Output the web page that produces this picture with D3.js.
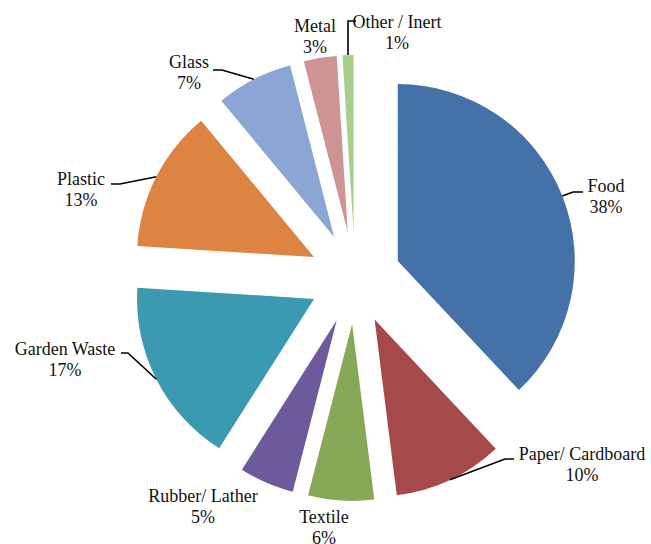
<!DOCTYPE html>
<html>
<head>
<meta charset="utf-8">
<script src="https://cdn.jsdelivr.net/npm/d3@7/dist/d3.min.js"></script>
<style>
  html, body { margin: 0; padding: 0; background: #fff; }
  svg { display: block; }
  text { font-family: "Liberation Serif", "Times New Roman", serif; font-size: 18px; fill: #111; }
</style>
</head>
<body>
<svg id="chart" width="651" height="544"></svg>
<script>
// ---- data ----
const categories = ["Food", "Paper/ Cardboard", "Textile", "Rubber/ Lather", "Garden Waste", "Plastic", "Glass", "Metal", "Other / Inert"];
const values = [38, 10, 6, 5, 17, 13, 7, 3, 1];
const percentLabels = ["38%", "10%", "6%", "5%", "17%", "13%", "7%", "3%", "1%"];
const colors = ["#4472A8", "#A5494A", "#86A857", "#6C5A9C", "#3B99B2", "#DD8442", "#8BA6D5", "#D09394", "#A8CF8E"];

// ---- layout (label positions, leader elbows) ----
const layout = {
  cx: 355, cy: 278, r: 177, explode: 46,
  labels: [
    { x: 606, y: 192, elbow: [573, 192], end: [583, 192] },
    { x: 582, y: 460, elbow: [505, 459], end: [514, 459] },
    { x: 324, y: 523 },
    { x: 203, y: 502 },
    { x: 65,  y: 355, elbow: [128, 353], end: [121, 353] },
    { x: 81,  y: 185, elbow: [120, 184], end: [111, 184] },
    { x: 189, y: 68,  elbow: [222, 70],  end: [213, 70] },
    { x: 315, y: 32 },
    { x: 397, y: 28,  elbow: [348, 21],  end: [356, 21] }
  ]
};

const svg = d3.select("#chart");
const pie = d3.pie().sort(null).value(d => d).startAngle(0).endAngle(2 * Math.PI);
const arcs = pie(values);
const arc = d3.arc().innerRadius(0).outerRadius(layout.r);

const g = svg.append("g").attr("transform", `translate(${layout.cx},${layout.cy})`);

function offset(d) {
  const a = (d.startAngle + d.endAngle) / 2;
  return [Math.sin(a) * layout.explode, -Math.cos(a) * layout.explode];
}

g.selectAll("path.slice")
  .data(arcs)
  .join("path")
  .attr("class", "slice")
  .attr("d", arc)
  .attr("fill", (d, i) => colors[i])
  .attr("transform", d => { const o = offset(d); return `translate(${o[0]},${o[1]})`; });

// leader lines
arcs.forEach((d, i) => {
  const L = layout.labels[i];
  if (!L.elbow) return;
  const a = (d.startAngle + d.endAngle) / 2;
  const o = offset(d);
  const sx = layout.cx + o[0] + Math.sin(a) * layout.r;
  const sy = layout.cy + o[1] - Math.cos(a) * layout.r;
  svg.append("polyline")
    .attr("points", `${sx},${sy} ${L.elbow[0]},${L.elbow[1]} ${L.end[0]},${L.end[1]}`)
    .attr("fill", "none")
    .attr("stroke", "#000")
    .attr("stroke-width", 1.6);
});

// labels
categories.forEach((c, i) => {
  const L = layout.labels[i];
  const t = svg.append("text").attr("text-anchor", "middle").attr("x", L.x).attr("y", L.y);
  t.append("tspan").attr("x", L.x).attr("dy", 0).text(c);
  t.append("tspan").attr("x", L.x).attr("dy", 21).text(percentLabels[i]);
});
</script>
</body>
</html>
